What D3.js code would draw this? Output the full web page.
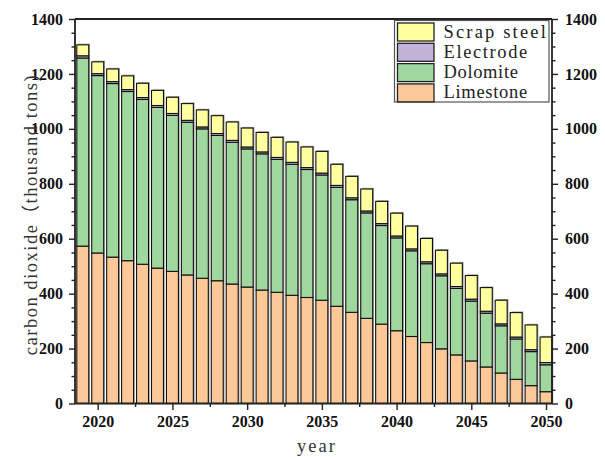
<!DOCTYPE html>
<html>
<head>
<meta charset="utf-8">
<script src="https://cdn.jsdelivr.net/npm/d3@7"></script>
<style>
  html, body { margin: 0; padding: 0; background: #fff; }
  svg { display: block; }
</style>
</head>
<body>
<svg id="chart" width="605" height="457"></svg>
<script>
// ---------------- data ----------------
const years = [2019, 2020, 2021, 2022, 2023, 2024, 2025, 2026, 2027, 2028,
               2029, 2030, 2031, 2032, 2033, 2034, 2035, 2036, 2037, 2038,
               2039, 2040, 2041, 2042, 2043, 2044, 2045, 2046, 2047, 2048,
               2049, 2050];
const limestone = [573, 548, 533, 520, 507, 493, 481, 468, 456, 447,
                   435, 424, 413, 405, 394, 386, 376, 354, 332, 310,
                   289, 265, 244, 222, 199, 177, 155, 133, 111, 88,
                   65, 43];
const dolomite = [685, 646, 632, 616, 600, 585, 568, 556, 544, 529,
                  516, 503, 496, 484, 477, 466, 456, 433, 410, 384,
                  359, 338, 312, 287, 266, 242, 218, 196, 172, 147,
                  124, 98];
const electrode = [8, 7, 7, 7, 7, 7, 7, 7, 7, 7,
                   7, 7, 7, 7, 7, 7, 7, 7, 7, 7,
                   7, 7, 7, 7, 7, 7, 7, 7, 7, 7,
                   7, 8];
const scrapSteel = [40, 43, 46, 50, 52, 55, 59, 61, 62, 65,
                    67, 69, 71, 73, 74, 75, 79, 77, 78, 80,
                    81, 83, 83, 85, 86, 85, 86, 86, 86, 89,
                    90, 93];
const seriesNames = ["Limestone", "Dolomite", "Electrode", "Scrap steel"];
const seriesColors = ["#FDC897", "#9FD79F", "#C2B2DA", "#FFFFA0"];
const yTicks = [0, 200, 400, 600, 800, 1000, 1200, 1400];
const yMinorTicks = [50, 100, 150, 250, 300, 350, 450, 500, 550, 650, 700, 750,
                     850, 900, 950, 1050, 1100, 1150, 1250, 1300, 1350];
const xTicks = [2020, 2025, 2030, 2035, 2040, 2045, 2050];
const xMinorTicks = [2022.5, 2027.5, 2032.5, 2037.5, 2042.5, 2047.5];
const yTitle = "carbon dioxide（thousand tons)";
const xTitle = "year";

// ---------------- layout ----------------
const L = 75, R = 552, T = 19, B = 403.5;
const svg = d3.select("#chart");
const x = d3.scaleLinear().domain([2018.48, 2050.4]).range([L, R]);
const y = d3.scaleLinear().domain([0, 1400]).range([B, T]);
const barW = (x(1) - x(0)) * 0.8;

const table = years.map((yr, i) => ({
  year: yr,
  Limestone: limestone[i],
  Dolomite: dolomite[i],
  Electrode: electrode[i],
  "Scrap steel": scrapSteel[i]
}));
const stacked = d3.stack().keys(seriesNames)(table);

const tickFont = "'Liberation Serif', 'Times New Roman', serif";
const textFont = "'Liberation Serif', 'Times New Roman', 'Noto Sans CJK SC', serif";

// shadow behind bars
svg.append("g").selectAll("rect")
  .data(table)
  .join("rect")
  .attr("x", d => x(d.year) - barW / 2 + 1.3)
  .attr("y", d => y(d.Limestone + d.Dolomite + d.Electrode + d["Scrap steel"]) - 1.2)
  .attr("width", barW)
  .attr("height", d => y(0) - y(d.Limestone + d.Dolomite + d.Electrode + d["Scrap steel"]))
  .attr("fill", "#a8a8a8");

// bars
const gBars = svg.append("g");
stacked.forEach((s, si) => {
  gBars.append("g")
    .attr("fill", seriesColors[si])
    .selectAll("rect")
    .data(s)
    .join("rect")
    .attr("x", d => x(d.data.year) - barW / 2)
    .attr("y", d => y(d[1]))
    .attr("width", barW)
    .attr("height", d => y(d[0]) - y(d[1]))
    .attr("stroke", "#111")
    .attr("stroke-width", 1.1);
});

// axes
const axisColor = "#222";
function styleAxis(g) {
  g.select(".domain").remove();
  g.selectAll("line").attr("stroke", axisColor).attr("stroke-width", 1.4);
  g.selectAll("text").attr("font-family", tickFont).attr("font-weight", "bold")
    .attr("font-size", "16px").attr("fill", "#111");
}
const yLeft = svg.append("g").attr("transform", `translate(${L},0)`)
  .call(d3.axisLeft(y).tickValues(yTicks).tickSize(6).tickPadding(6).tickFormat(d3.format("d")));
styleAxis(yLeft);
svg.append("g").attr("transform", `translate(${L},0)`)
  .call(d3.axisLeft(y).tickValues(yMinorTicks).tickSize(3.5).tickFormat(""))
  .call(styleAxis);

const yRight = svg.append("g").attr("transform", `translate(${R},0)`)
  .call(d3.axisRight(y).tickValues(yTicks).tickSize(6).tickPadding(7).tickFormat(d3.format("d")));
styleAxis(yRight);
svg.append("g").attr("transform", `translate(${R},0)`)
  .call(d3.axisRight(y).tickValues(yMinorTicks).tickSize(3.5).tickFormat(""))
  .call(styleAxis);

const xBottom = svg.append("g").attr("transform", `translate(0,${B})`)
  .call(d3.axisBottom(x).tickValues(xTicks).tickSize(6.5).tickPadding(6).tickFormat(d3.format("d")));
styleAxis(xBottom);
svg.append("g").attr("transform", `translate(0,${B})`)
  .call(d3.axisBottom(x).tickValues(xMinorTicks).tickSize(3.5).tickFormat(""))
  .call(styleAxis);

// frame lines
const frame = svg.append("g").attr("stroke", axisColor).attr("stroke-width", 1.8).attr("fill", "none");
frame.append("line").attr("x1", L).attr("x2", L).attr("y1", T).attr("y2", B);
frame.append("line").attr("x1", R).attr("x2", R).attr("y1", T).attr("y2", B);
frame.append("line").attr("x1", L).attr("x2", R).attr("y1", B).attr("y2", B);
frame.append("line").attr("x1", L).attr("x2", R).attr("y1", T).attr("y2", T);

// axis titles
svg.append("text")
  .attr("transform", `translate(37,${(T + B) / 2 + 4}) rotate(-90)`)
  .attr("text-anchor", "middle")
  .attr("font-family", textFont)
  .attr("font-size", "18.5px")
  .attr("fill", "#333")
  .attr("textLength", 280)
  .attr("lengthAdjust", "spacing")
  .text(yTitle);
svg.append("text")
  .attr("x", 316).attr("y", 451.5)
  .attr("text-anchor", "middle")
  .attr("font-family", textFont)
  .attr("font-size", "18.5px")
  .attr("fill", "#333")
  .attr("textLength", 38)
  .attr("lengthAdjust", "spacing")
  .text(xTitle);

// legend
const legendOrder = ["Scrap steel", "Electrode", "Dolomite", "Limestone"];
const lg = svg.append("g");
lg.append("rect").attr("x", 394.5).attr("y", 20.5).attr("width", 154.5).attr("height", 81.5)
  .attr("fill", "#fff").attr("stroke", "#555").attr("stroke-width", 1.2);
legendOrder.forEach((name, i) => {
  const c = seriesColors[seriesNames.indexOf(name)];
  const ry = 23 + i * 20.3;
  lg.append("rect").attr("x", 397.5).attr("y", ry).attr("width", 36.5).attr("height", 18)
    .attr("fill", c).attr("stroke", "#222").attr("stroke-width", 1.3);
  lg.append("text").attr("x", 443.5).attr("y", ry + 14.5)
    .attr("font-family", textFont).attr("font-size", "18.5px").attr("fill", "#222")
    .attr("textLength", name.length * 9.3).attr("lengthAdjust", "spacing")
    .text(name);
});
</script>
</body>
</html>
